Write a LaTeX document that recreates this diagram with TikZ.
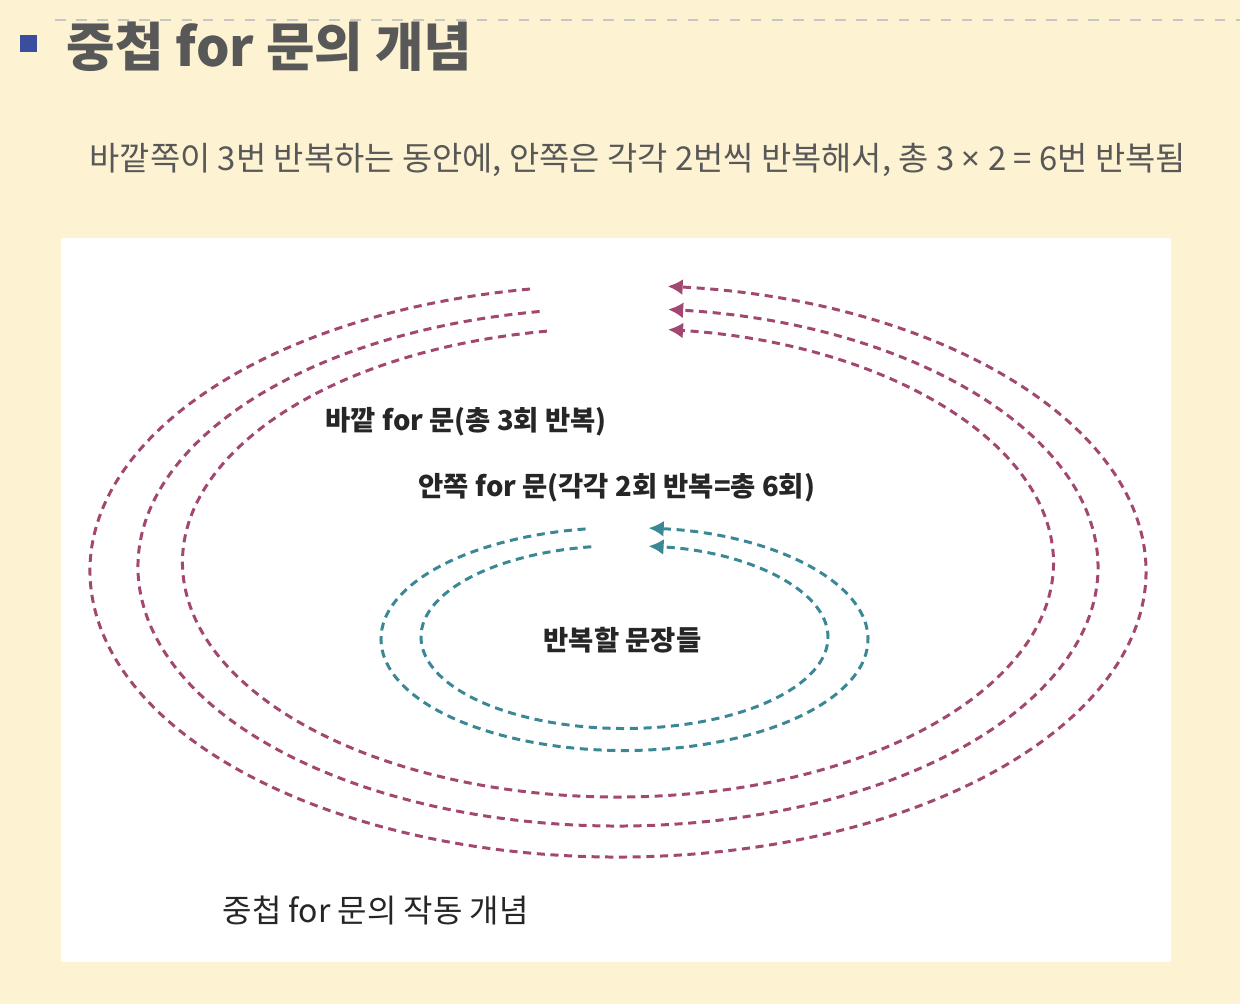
\documentclass[tikz,border=0pt]{standalone}
\usepackage{fontspec}
\setmainfont{Noto Sans CJK KR}
\newfontfamily\latinfont{Noto Sans}
\usetikzlibrary{arrows.meta}

\definecolor{paper}{RGB}{253,243,210}
\definecolor{bullet}{RGB}{59,78,158}
\definecolor{titlegray}{RGB}{88,88,88}
\definecolor{outerpink}{RGB}{162,72,112}
\definecolor{innerteal}{RGB}{58,136,150}

\begin{document}
\begin{tikzpicture}[
        outerloop/.style={outerpink,line width=0.85pt,dash pattern=on 2.3pt off 1.6pt,-{Latex[length=1.5mm,width=1.6mm]}},
        innerloop/.style={innerteal,line width=0.85pt,dash pattern=on 2.3pt off 1.6pt,-{Latex[length=1.5mm,width=1.6mm]}},
        lbl/.style={inner sep=0pt,anchor=west,text=black!85}
    ]
        \useasboundingbox (0,0) rectangle (12.4,-10.04);
        \fill[paper] (0,0) rectangle (12.4,-10.04);
        \draw[gray!45,dashed,line width=0.3pt] (0.55,-0.20) -- (12.4,-0.20);
        \fill[bullet] (0.20,-0.35) rectangle (0.37,-0.52);
        \node[inner sep=0pt,anchor=west,text=titlegray,font=\fontsize{15}{17}\selectfont\bfseries] (title) at (0.66,-0.47) {중첩 for 문의 개념};
        \node[inner sep=0pt,anchor=west,text=titlegray,font=\fontsize{9.35}{11}\selectfont] (summary) at (0.89,-1.60) {바깥쪽이 3번 반복하는 동안에, 안쪽은 각각 2번씩 반복해서, 총 3 {\latinfont ×} 2 = 6번 반복됨};
        \fill[white] (0.61,-2.38) rectangle (11.71,-9.62);
        % outer for loop, three passes
        \coordinate (o1) at (6.18,-5.71);
        \coordinate (o2) at (6.18,-5.67);
        \coordinate (o3) at (6.18,-5.625);
        \draw[outerloop] ([shift={(99.6:5.28 and 2.86)}]o1) arc[start angle=99.6,end angle=444.6,x radius=5.28,y radius=2.86];
        \draw[outerloop] ([shift={(99.4:4.80 and 2.59)}]o2) arc[start angle=99.4,end angle=444.0,x radius=4.80,y radius=2.59];
        \draw[outerloop] ([shift={(99.4:4.355 and 2.345)}]o3) arc[start angle=99.4,end angle=443.4,x radius=4.355,y radius=2.345];
        % inner for loop, two passes
        \coordinate (i1) at (6.245,-6.39);
        \coordinate (i2) at (6.245,-6.37);
        \draw[innerloop] ([shift={(99.2:2.435 and 1.115)}]i1) arc[start angle=99.2,end angle=444.3,x radius=2.435,y radius=1.115];
        \draw[innerloop] ([shift={(99.4:2.035 and 0.915)}]i2) arc[start angle=99.4,end angle=443.2,x radius=2.035,y radius=0.915];
        \node[lbl,font=\fontsize{7.8}{9}\selectfont\bfseries] (outerlbl) at (3.25,-4.22) {바깥 for 문(총 3회 반복)};
        \node[lbl,font=\fontsize{7.8}{9}\selectfont\bfseries] (innerlbl) at (4.18,-4.88) {안쪽 for 문(각각 2회 반복=총 6회)};
        \node[inner sep=0pt,text=black!85,font=\fontsize{7.8}{9}\selectfont\bfseries] (body) at (6.225,-6.40) {반복할 문장들};
        \node[lbl,font=\fontsize{9.1}{11}\selectfont] (caption) at (2.22,-9.10) {중첩 for 문의 작동 개념};
    \end{tikzpicture}
\end{document}
